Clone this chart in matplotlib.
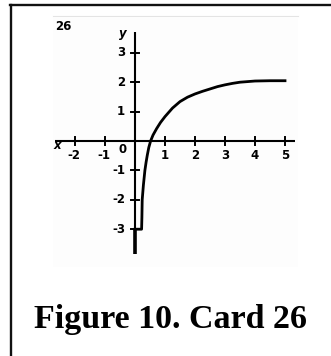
import matplotlib
matplotlib.use("Agg")
import matplotlib.pyplot as plt
from matplotlib.lines import Line2D

# curve
curve_x = [0.0, 0.22, 0.23, 0.24, 0.28, 0.33, 0.37, 0.41, 0.46, 0.52, 0.6, 0.72, 0.85,
           1.0, 1.25, 1.5, 1.75, 2.0, 2.25, 2.5, 2.75, 3.0, 3.25, 3.5, 3.75, 4.0, 4.5, 5.0]
curve_y = [-3.0, -3.0, -2.6, -2.0, -1.5, -1.0, -0.72, -0.48, -0.22, 0.0, 0.2, 0.42, 0.63,
           0.83, 1.12, 1.34, 1.49, 1.6, 1.69, 1.77, 1.85, 1.91, 1.96, 2.0, 2.02, 2.04, 2.05, 2.05]

x_ticks = [-2, -1, 1, 2, 3, 4, 5]
x_labels = ['-2', '-1', '1', '2', '3', '4', '5']
y_ticks = [3, 2, 1, -1, -2, -3]
y_labels = ['3', '2', '1', '-1', '-2', '-3']

card_no = '26'
caption = 'Figure 10. Card 26'

W, H = 331, 356
fig = plt.figure(figsize=(W / 100, H / 100), dpi=100)
ax = fig.add_axes([0, 0, 1, 1])
# pixel -> data: x = (px-135)/30, y = (141-py)/29.4
ax.set_xlim((0 - 135) / 30, (W - 135) / 30)
ax.set_ylim((141 - H) / 29.4, (141 - 0) / 29.4)
ax.axis('off')

# faint scan background and rule on top
ax.add_patch(plt.Rectangle((-2.73, -4.3), 8.17, 8.5, color='#fdfdfd', zorder=0, lw=0))
ax.plot([-2.73, 5.43], [4.25, 4.25], color='#e4e4e4', lw=0.8)

# axes
ax.plot([-2.67, 5.33], [0, 0], color='black', lw=1.5, solid_capstyle='butt')
ax.plot([0, 0], [-3.86, 3.7], color='black', lw=1.5, solid_capstyle='butt')
ax.plot([0, 0], [-3.86, -3.0], color='black', lw=2.6, solid_capstyle='butt')

tk = 0.14
for t in x_ticks:
    ax.plot([t, t], [-tk, tk], color='black', lw=1.4)
for t in y_ticks:
    ax.plot([-tk, tk], [t, t], color='black', lw=1.4)

fs = 8.5
for t, lab in zip(x_ticks, x_labels):
    dx = -0.05 if t < 0 else 0
    ax.text(t + dx, -0.5, lab, ha='center', va='center', fontsize=fs, fontweight='bold')
for t, lab in zip(y_ticks, y_labels):
    ax.text(-0.33, t, lab, ha='right', va='center', fontsize=fs, fontweight='bold')
ax.text(-0.4, -0.3, '0', ha='center', va='center', fontsize=fs, fontweight='bold')
ax.text(-2.6, -0.17, 'x', ha='center', va='center', fontsize=fs, fontweight='bold', style='italic')
ax.text(-0.42, 3.65, 'y', ha='center', va='center', fontsize=fs, fontweight='bold', style='italic')
ax.text(-2.65, 3.9, card_no, ha='left', va='center', fontsize=fs, fontweight='bold')

ax.plot(curve_x, curve_y, color='black', lw=2.0, solid_joinstyle='round')

# card border (left and top only, the rest is cropped)
fig.add_artist(Line2D([10.5 / W, 10.5 / W], [0, 1 - 5 / H], color='#111111', lw=1.7,
                      transform=fig.transFigure))
fig.add_artist(Line2D([10 / W, 1], [1 - 5 / H, 1 - 5 / H], color='#111111', lw=1.7,
                      transform=fig.transFigure))

fig.text(171 / W, 1 - 328 / H, caption, ha='center', va='baseline', fontsize=24.5,
         fontweight='bold', family='Liberation Serif')

fig.savefig('out.png', dpi=100)
